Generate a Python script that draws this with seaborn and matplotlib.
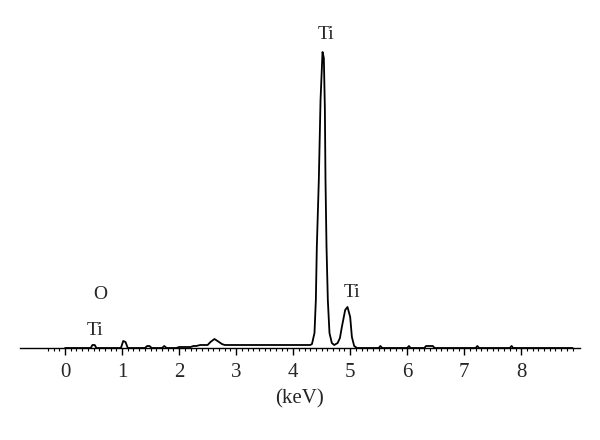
import numpy as np
import pandas as pd
import matplotlib
matplotlib.use("Agg")
import matplotlib.pyplot as plt
import seaborn as sns

# EDS spectrum (energy in keV, counts in arbitrary units)
energy = [0.00, 0.45, 0.48, 0.52, 0.55, 0.98, 1.02, 1.06, 1.10,
          1.40, 1.44, 1.48, 1.52, 1.70, 1.74, 1.78, 1.95, 2.00, 2.20, 2.25,
          2.30, 2.37, 2.50, 2.55, 2.62, 2.70, 2.75, 2.80, 3.40, 4.30,
          4.33, 4.374, 4.398, 4.415, 4.450, 4.480, 4.515, 4.538, 4.556,
          4.567, 4.585, 4.608, 4.637, 4.678, 4.72, 4.78, 4.82, 4.854,
          4.912, 4.953, 5.00, 5.03, 5.07, 5.12,
          5.50, 5.53, 5.56, 6.00, 6.03, 6.06, 6.30, 6.33, 6.45, 6.48,
          7.20, 7.23, 7.26, 7.80, 7.83, 7.86, 8.90]
counts = [0, 0, 3, 3, 0, 0, 7, 6, 0,
          0, 2, 2, 0, 0, 2, 0, 0, 1, 1, 2,
          2, 3, 3, 6, 9, 6, 4, 3, 3, 3,
          4, 15, 48, 101, 168, 248, 296, 290, 240,
          168, 101, 48, 15, 5, 3, 5, 10, 21,
          38, 41, 31, 11, 2, 0,
          0, 2, 0, 0, 2, 0, 0, 2, 2, 0,
          0, 2, 0, 0, 2, 0, 0]

# peak labels
labels = ["Ti", "Ti", "O", "Ti"]
label_x = [4.58, 5.04, 0.61, 0.52]
label_y = [305, 47, 45, 9]

major_ticks = list(range(0, 9))
minor_ticks = [round(-0.3 + 0.1 * i, 1) for i in range(93)]

df = pd.DataFrame({"Energy": energy, "Counts": counts})

sns.set_style("white")
plt.rcParams["font.family"] = ["Liberation Serif", "DejaVu Serif"]

fig = plt.figure(figsize=(6, 4.4), dpi=100)
ax = fig.add_axes([20 / 600, 92 / 440, 560 / 600, 328 / 440])

sns.lineplot(data=df, x="Energy", y="Counts", color="black",
             linewidth=1.3, ax=ax)

for t, x, y in zip(labels, label_x, label_y):
    ax.text(x, y, t, ha="center", va="bottom", fontsize=14)

ax.set_xlim(-0.79, 9.03)
ax.set_ylim(0, 328)

for s in ["left", "top", "right"]:
    ax.spines[s].set_visible(False)
ax.spines["bottom"].set_color("black")
ax.spines["bottom"].set_linewidth(1.0)

ax.set_yticks([])
ax.set_xticks(major_ticks)
ax.set_xticklabels([str(t) for t in major_ticks], fontsize=15)
ax.set_xticks(minor_ticks, minor=True)
ax.tick_params(axis="x", which="both", bottom=True, top=False)
ax.tick_params(axis="x", which="major", direction="out", length=5,
               width=1, color="black", pad=6)
ax.tick_params(axis="x", which="minor", direction="out", length=2.5,
               width=0.8, color="black")
ax.set_xlabel("(keV)", fontsize=15, labelpad=5)
ax.set_ylabel("")

fig.savefig("out.png", dpi=100)
